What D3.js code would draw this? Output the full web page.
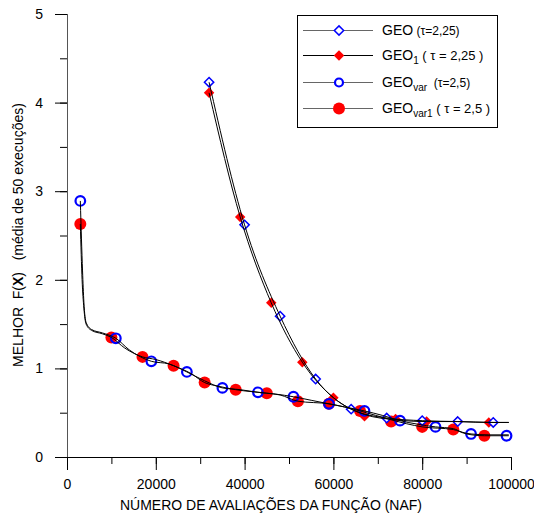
<!DOCTYPE html>
<html><head><meta charset="utf-8">
<script src="https://cdn.jsdelivr.net/npm/d3@7"></script>
<style>body{margin:0;background:#fff}svg{display:block;font-family:"Liberation Sans",Arial,sans-serif}</style>
</head><body><svg id="c" width="534" height="513"></svg>
<script>
// ---- data ----
const xTicks = [0, 20000, 40000, 60000, 80000, 100000];
const yTicks = [0, 1, 2, 3, 4, 5];

// GEO (tau=2,25) - blue open diamonds
const geoMarkX = [32000, 40000, 48000, 56000, 64000, 72000, 80000, 88000, 96000];
const geoMarkY = [4.23, 2.62, 1.59, 0.88, 0.54, 0.44, 0.41, 0.40, 0.39];
const geoLineX = [32000, 40000, 48000, 56000, 64000, 72000, 80000, 88000, 96000, 99500];
const geoLineY = [4.23, 2.62, 1.59, 0.88, 0.54, 0.44, 0.41, 0.40, 0.39, 0.39];

// GEO1 (tau=2,25) - red filled diamonds
const geo1MarkX = [32000, 39000, 46000, 53000, 60000, 67000, 74000, 81000, 88000, 95000];
const geo1MarkY = [4.11, 2.71, 1.74, 1.07, 0.67, 0.46, 0.43, 0.40, 0.40, 0.39];
const geo1LineX = [32000, 39000, 46000, 53000, 60000, 67000, 74000, 81000, 88000, 95000, 99500];
const geo1LineY = [4.11, 2.71, 1.74, 1.07, 0.67, 0.48, 0.42, 0.40, 0.40, 0.39, 0.39];

// GEOvar (tau=2,5) - blue open circles
const varMarkX = [3000, 11000, 19000, 27000, 35000, 43000, 51000, 59000, 67000, 75000, 83000, 91000, 99000];
const varMarkY = [2.89, 1.34, 1.08, 0.96, 0.78, 0.73, 0.68, 0.60, 0.52, 0.41, 0.34, 0.26, 0.24];
const varLineX = [3000, 3500, 3800, 4300, 5500, 8000, 11000, 14000, 19000, 23000, 27000, 31000, 35000, 39000, 43000, 47000, 51000, 55000, 59000, 63000, 67000, 71000, 75000, 79000, 83000, 87000, 89000, 91000, 95000, 99500];
const varLineY = [2.89, 2.10, 1.75, 1.52, 1.44, 1.40, 1.34, 1.21, 1.08, 1.05, 0.96, 0.86, 0.78, 0.76, 0.73, 0.71, 0.68, 0.64, 0.60, 0.56, 0.52, 0.47, 0.41, 0.37, 0.34, 0.32, 0.28, 0.26, 0.25, 0.25];

// GEOvar1 (tau=2,5) - red filled circles
const var1MarkX = [3000, 10000, 17000, 24000, 31000, 38000, 45000, 52000, 59000, 66000, 73000, 80000, 87000, 94000];
const var1MarkY = [2.63, 1.35, 1.13, 1.03, 0.84, 0.76, 0.72, 0.63, 0.60, 0.52, 0.40, 0.34, 0.31, 0.24];
const var1LineX = [3000, 3400, 3800, 4300, 5500, 8000, 10000, 13000, 17000, 20000, 24000, 28000, 31000, 34000, 38000, 45000, 48000, 52000, 59000, 66000, 73000, 80000, 87000, 90000, 94000, 99500];
const var1LineY = [2.63, 2.00, 1.68, 1.50, 1.43, 1.39, 1.35, 1.23, 1.13, 1.10, 1.03, 0.94, 0.84, 0.80, 0.76, 0.72, 0.70, 0.63, 0.60, 0.52, 0.42, 0.34, 0.31, 0.26, 0.24, 0.24];

// ---- chart ----
const svg = d3.select("#c");
const x = d3.scaleLinear().domain([0, 100000]).range([67, 511]);
const y = d3.scaleLinear().domain([0, 5]).range([457, 14]);
const FONT = "Liberation Sans, Arial, sans-serif";

// axes
const gx = svg.append("g").attr("transform", "translate(0,457)");
gx.call(d3.axisBottom(x).tickValues(d3.range(0, 100001, 10000)).tickSize(7).tickFormat(""))
  .call(g => g.select(".domain").remove());
gx.selectAll(".tick line").attr("stroke", "#000");
const gx2 = svg.append("g").attr("transform", "translate(0,457)");
gx2.call(d3.axisBottom(x).tickValues(xTicks).tickSize(13).tickPadding(9).tickFormat(d3.format("d")))
  .call(g => g.select(".domain").remove());
gx2.selectAll(".tick line").attr("stroke", "#000");
gx2.selectAll(".tick text").attr("font-size", 14).attr("fill", "#000").attr("font-family", FONT);
svg.append("line").attr("x1", 55).attr("x2", 511).attr("y1", 457.5).attr("y2", 457.5).attr("stroke", "#000");

const gy = svg.append("g").attr("transform", "translate(67,0)");
gy.call(d3.axisLeft(y).tickValues(d3.range(0, 5.01, 0.5)).tickSize(7).tickFormat(""))
  .call(g => g.select(".domain").remove());
gy.selectAll(".tick line").attr("stroke", "#000");
const gy2 = svg.append("g").attr("transform", "translate(67,0)");
gy2.call(d3.axisLeft(y).tickValues(yTicks).tickSize(12).tickPadding(12).tickFormat(d3.format("d")))
  .call(g => g.select(".domain").remove());
gy2.selectAll(".tick line").attr("stroke", "#000");
gy2.selectAll(".tick text").attr("font-size", 14).attr("fill", "#000").attr("font-family", FONT);
svg.append("line").attr("x1", 67.5).attr("x2", 67.5).attr("y1", 14).attr("y2", 457).attr("stroke", "#555");

// axis titles
svg.append("text").attr("x", 271).attr("y", 510).attr("text-anchor", "middle")
  .attr("font-size", 14).text("NÚMERO DE AVALIAÇÕES DA FUNÇÃO (NAF)");
const yl = svg.append("text").attr("transform", "translate(23,235) rotate(-90)")
  .attr("text-anchor", "middle").attr("font-size", 14).style("white-space", "pre");
yl.append("tspan").text("MELHOR  F(");
yl.append("tspan").attr("font-weight", "bold").text("X");
yl.append("tspan").text(")   (média de 50 execuções)");

// markers
const diamond = d3.symbol().type(d3.symbolDiamond2);
function drawMark(g, cx, cy, kind) {
  if (kind === "redCircle") g.append("circle").attr("cx", cx).attr("cy", cy).attr("r", 6).attr("fill", "#ff0000");
  else if (kind === "blueCircle") g.append("circle").attr("cx", cx).attr("cy", cy).attr("r", 4.8).attr("fill", "none").attr("stroke", "#0000ff").attr("stroke-width", 2.2);
  else if (kind === "redDiamond") g.append("path").attr("transform", `translate(${cx},${cy})`).attr("d", diamond.size(70)()).attr("fill", "#ff0000");
  else g.append("path").attr("transform", `translate(${cx},${cy})`).attr("d", diamond.size(55)()).attr("fill", "#fff").attr("stroke", "#0000ff").attr("stroke-width", 1.5);
}
function markers(xs, ys, kind) {
  const g = svg.append("g");
  xs.forEach((v, i) => drawMark(g, x(v), y(ys[i]), kind));
}
markers(var1MarkX, var1MarkY, "redCircle");
markers(geo1MarkX, geo1MarkY, "redDiamond");
markers(varMarkX, varMarkY, "blueCircle");
markers(geoMarkX, geoMarkY, "blueDiamond");

// lines
const line = d3.line().x(d => x(d[0])).y(d => y(d[1])).curve(d3.curveMonotoneX);
[[geoLineX, geoLineY], [geo1LineX, geo1LineY], [varLineX, varLineY], [var1LineX, var1LineY]].forEach(([xs, ys]) => {
  svg.append("path").attr("d", line(xs.map((v, i) => [v, ys[i]])))
    .attr("fill", "none").attr("stroke", "#000").attr("stroke-width", 1);
});

// legend
const lg = svg.append("g");
lg.append("rect").attr("x", 297.5).attr("y", 15.5).attr("width", 200).attr("height", 112)
  .attr("fill", "#fff").attr("stroke", "#000").attr("stroke-width", 1);
const entries = [
  { kind: "blueDiamond", y: 30, col: "#666", main: "GEO", sub: "", rest: " (τ=2,25)", restSize: 12 },
  { kind: "redDiamond", y: 55, col: "#000", main: "GEO", sub: "1", rest: " ( τ = 2,25 )", restSize: 13 },
  { kind: "blueCircle", y: 82, col: "#666", main: "GEO", sub: "var", rest: "  (τ=2,5)", restSize: 12 },
  { kind: "redCircle", y: 108, col: "#666", main: "GEO", sub: "var1", rest: " ( τ = 2,5 )", restSize: 13 }
];
entries.forEach(e => {
  lg.append("line").attr("x1", 303).attr("x2", 373).attr("y1", e.y + 0.5).attr("y2", e.y + 0.5)
    .attr("stroke", e.col).attr("stroke-width", 1.2);
  const cx = 339, cy = e.y + 0.5;
  if (e.kind === "blueCircle") lg.append("circle").attr("cx", cx).attr("cy", cy).attr("r", 4).attr("fill", "#fff").attr("stroke", "#0000ff").attr("stroke-width", 2.2);
  else drawMark(lg, cx, cy, e.kind);
  const t = lg.append("text").attr("x", 382).attr("y", e.y + 5).attr("font-size", 14).style("white-space", "pre");
  t.append("tspan").text(e.main);
  if (e.sub) t.append("tspan").attr("font-size", 10).attr("dy", 4).text(e.sub);
  t.append("tspan").attr("font-size", e.restSize).attr("dy", e.sub ? -4 : 0).text(e.rest);
});
</script></body></html>
